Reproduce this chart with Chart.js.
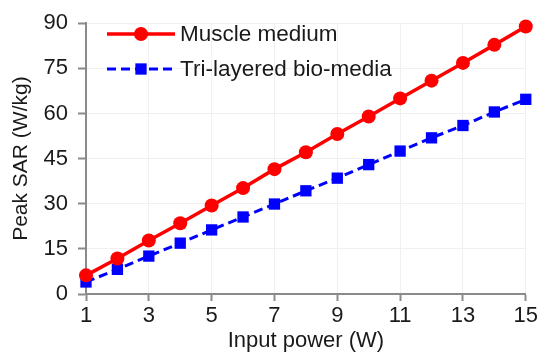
<!DOCTYPE html>
<html>
<head>
<meta charset="utf-8">
<script src="https://cdn.jsdelivr.net/npm/chart.js@4"></script>
<style>
  html, body { margin: 0; padding: 0; background: #fff; }
  #wrap { width: 540px; height: 352px; }
</style>
</head>
<body>
<div id="wrap"><canvas id="sarChart" width="540" height="352"></canvas></div>
<script>
// === Data ===
const inputPower = [1, 2, 3, 4, 5, 6, 7, 8, 9, 10, 11, 12, 13, 14, 15];
const muscleSar = [6.2, 11.8, 17.8, 23.5, 29.4, 35.2, 41.5, 47.1, 53.2, 59.0, 65.0, 70.9, 76.8, 82.8, 88.9];
const triLayerSar = [4.0, 8.2, 12.6, 16.9, 21.3, 25.6, 29.9, 34.3, 38.5, 43.0, 47.5, 51.9, 56.0, 60.5, 64.7];
const seriesNames = ["Muscle medium", "Tri-layered bio-media"];
const xTitle = "Input power (W)";
const yTitle = "Peak SAR (W/kg)";

const FONT = "'Liberation Sans', Arial, sans-serif";
const TEXT = "#1a1a1a";
const AXIS = "#8a8a8a";

function toPoints(ys) {
  return inputPower.map((x, i) => ({ x: x, y: ys[i] }));
}

// === Legend drawn inside the plot (line + marker sample) ===
const innerLegend = {
  id: "innerLegend",
  afterDraw(chart) {
    const ctx = chart.ctx;
    const rows = [34, 69];
    chart.data.datasets.forEach((ds, i) => {
      const y = rows[i];
      ctx.save();
      ctx.strokeStyle = ds.borderColor;
      ctx.lineWidth = ds.borderWidth;
      ctx.setLineDash(ds.borderDash || []);
      ctx.beginPath();
      ctx.moveTo(107, y);
      ctx.lineTo(175, y);
      ctx.stroke();
      ctx.setLineDash([]);
      ctx.fillStyle = ds.pointBackgroundColor;
      ctx.beginPath();
      if (ds.pointStyle === "rect") {
        const s = ds.pointRadius * Math.SQRT1_2;
        ctx.rect(141 - s, y - s, 2 * s, 2 * s);
      } else {
        ctx.arc(141, y, ds.pointRadius, 0, Math.PI * 2);
      }
      ctx.fill();
      ctx.fillStyle = TEXT;
      ctx.font = "22.5px " + FONT;
      ctx.textBaseline = "middle";
      ctx.textAlign = "left";
      ctx.fillText(ds.label, 180, y + 1);
      ctx.restore();
    });
  }
};

const chart = new Chart(document.getElementById("sarChart"), {
  type: "line",
  data: {
    datasets: [
      {
        label: seriesNames[0],
        data: toPoints(muscleSar),
        borderColor: "#ff0000",
        backgroundColor: "#ff0000",
        pointBackgroundColor: "#ff0000",
        pointBorderWidth: 0,
        borderWidth: 3.5,
        pointStyle: "circle",
        pointRadius: 7,
        clip: false
      },
      {
        label: seriesNames[1],
        data: toPoints(triLayerSar),
        borderColor: "#0000ff",
        backgroundColor: "#0000ff",
        pointBackgroundColor: "#0000ff",
        pointBorderWidth: 0,
        borderWidth: 3,
        borderDash: [9, 5],
        pointStyle: "rect",
        pointRadius: 8,
        clip: false
      }
    ]
  },
  options: {
    responsive: false,
    animation: false,
    devicePixelRatio: 1,
    layout: { padding: { top: 21, right: 14, left: 0, bottom: 0 } },
    plugins: {
      legend: { display: false },
      tooltip: { enabled: false }
    },
    scales: {
      x: {
        type: "linear",
        min: 1,
        max: 15,
        afterFit: (scale) => { scale.height = 58; },
        ticks: { stepSize: 2, color: TEXT, font: { family: FONT, size: 22 }, padding: 2, maxRotation: 0 },
        grid: { color: "#f0f0f0", tickColor: AXIS, tickLength: 7, tickWidth: 2 },
        border: { color: AXIS, width: 2 },
        title: { display: true, text: xTitle, color: TEXT, font: { family: FONT, size: 22, lineHeight: 1 }, padding: 0 }
      },
      y: {
        min: 0,
        max: 90,
        afterFit: (scale) => { scale.width = 86; },
        ticks: { stepSize: 15, color: TEXT, font: { family: FONT, size: 22 }, padding: 10 },
        grid: { color: "#f0f0f0", tickColor: AXIS, tickLength: 8, tickWidth: 2 },
        border: { color: AXIS, width: 2 },
        title: { display: true, text: yTitle, color: TEXT, font: { family: FONT, size: 21, lineHeight: 1 }, padding: { top: 11, bottom: 0 } }
      }
    }
  },
  plugins: [innerLegend]
});
</script>
</body>
</html>
